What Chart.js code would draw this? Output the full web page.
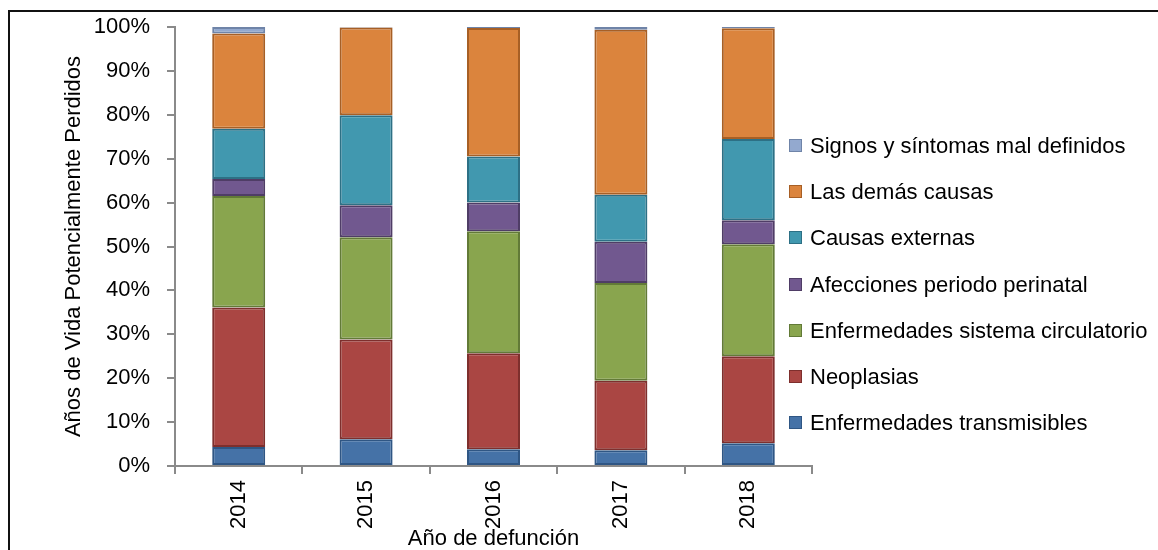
<!DOCTYPE html>
<html>
<head>
<meta charset="utf-8">
<script src="https://cdn.jsdelivr.net/npm/chart.js@4"></script>
<style>
  html, body { margin: 0; padding: 0; background: #fff; overflow: hidden; }
  body { width: 1158px; height: 550px; position: relative; }
  #frame { position: absolute; left: 8px; top: 10px; width: 1200px; height: 600px;
           border-left: 2px solid #111; border-top: 2px solid #111; }
  #wrap { position: absolute; left: 0; top: 0; width: 1158px; height: 570px; }
  #legend { position: absolute; left: 789px; top: 0; font-family: 'Liberation Sans', Arial, sans-serif;
            font-size: 22px; color: #000; }
  .item { position: absolute; left: 0; white-space: nowrap; height: 26px; line-height: 26px; }
  .box { position: absolute; left: 0; top: 6px; width: 11px; height: 11px; border: 1.5px solid; }
  .txt { position: absolute; left: 21px; top: 0; }
</style>
</head>
<body>
<div id="frame"></div>
<div id="wrap"><canvas id="c" width="1158" height="570"></canvas></div>
<div id="legend"></div>
<script>
// Años de Vida Potencialmente Perdidos por grupo de causas (% del total)
const years = ['2014', '2015', '2016', '2017', '2018'];

const transmisibles = [4.3, 6.1, 3.8, 3.6, 5.2];
const neoplasias    = [31.8, 22.7, 21.9, 15.8, 19.8];
const circulatorio  = [25.4, 23.3, 27.8, 22.3, 25.5];
const perinatal     = [3.9, 7.3, 6.5, 9.4, 5.5];
const externas      = [11.4, 20.5, 10.5, 10.7, 18.5];
const demas         = [21.7, 20.0, 29.3, 37.6, 25.2];
const malDefinidos  = [1.5, 0.1, 0.2, 0.6, 0.3];

const seriesNames = [
  'Enfermedades transmisibles',
  'Neoplasias',
  'Enfermedades sistema circulatorio',
  'Afecciones periodo perinatal',
  'Causas externas',
  'Las demás causas',
  'Signos y síntomas mal definidos'
];
const seriesData = [transmisibles, neoplasias, circulatorio, perinatal, externas, demas, malDefinidos];
const fills   = ['#4572a7', '#aa4643', '#89a54e', '#71588f', '#4198af', '#db843d', '#93a9cf'];
const borders = ['#2f5684', '#7e2f2d', '#627a37', '#4f3d66', '#2d7085', '#a75f25', '#6f84a8'];

const yTicks = [0, 10, 20, 30, 40, 50, 60, 70, 80, 90, 100];

const FONT = "'Liberation Sans', Arial, sans-serif";

const datasets = seriesNames.map((name, i) => ({
  label: name,
  data: seriesData[i],
  backgroundColor: fills[i],
  borderColor: borders[i],
  borderWidth: 2,
  borderSkipped: false,
  barPercentage: 0.416,
  categoryPercentage: 1.0
}));

new Chart(document.getElementById('c'), {
  type: 'bar',
  data: { labels: years, datasets },
  options: {
    responsive: false,
    animation: false,
    devicePixelRatio: 1,
    layout: { padding: { left: 0, top: 27, right: 346, bottom: 0 } },
    plugins: { legend: { display: false }, tooltip: { enabled: false } },
    scales: {
      x: {
        stacked: true,
        afterFit: s => { s.height = 104; s.paddingLeft = 0; s.paddingRight = 0; },
        grid: { offset: true, drawOnChartArea: false, drawTicks: true, tickLength: 8, color: '#8a8a8a', lineWidth: 2 },
        border: { color: '#8a8a8a', width: 2 },
        ticks: { color: '#000', font: { family: FONT, size: 22 }, minRotation: 90, maxRotation: 90, padding: 6 },
        title: { display: true, text: 'Año de defunción', color: '#000', font: { family: FONT, size: 22 },
                 padding: { top: 0, bottom: 18 } }
      },
      y: {
        stacked: true,
        min: 0, max: 100,
        afterFit: s => { s.width = 175; s.paddingTop = 0; s.paddingBottom = 0; },
        afterBuildTicks: s => { s.ticks = yTicks.map(v => ({ value: v })); },
        grid: { drawOnChartArea: false, drawTicks: true, tickLength: 8, color: '#8a8a8a', lineWidth: 2 },
        border: { color: '#8a8a8a', width: 2 },
        ticks: { color: '#000', font: { family: FONT, size: 22 }, padding: 17, callback: v => v + '%' },
        title: { display: true, text: 'Años de Vida Potencialmente Perdidos', color: '#000',
                 font: { family: FONT, size: 22 }, padding: { top: 61, bottom: 0 } }
      }
    }
  }
});

// Legend, listed from the top of the stack downwards
const legend = document.getElementById('legend');
const firstCenter = 146, step = 46.2;
for (let k = 0; k < seriesNames.length; k++) {
  const i = seriesNames.length - 1 - k;
  const item = document.createElement('div');
  item.className = 'item';
  item.style.top = (firstCenter + k * step - 13) + 'px';
  const box = document.createElement('span');
  box.className = 'box';
  box.style.background = fills[i];
  box.style.borderColor = borders[i];
  const txt = document.createElement('span');
  txt.className = 'txt';
  txt.textContent = seriesNames[i];
  item.appendChild(box);
  item.appendChild(txt);
  legend.appendChild(item);
}
</script>
</body>
</html>
